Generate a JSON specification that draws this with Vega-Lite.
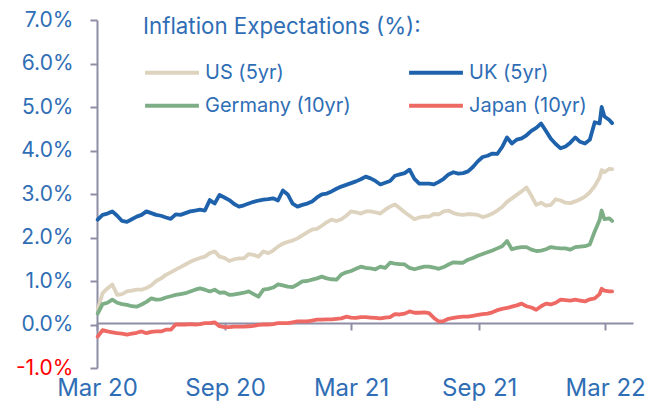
{
 "$schema": "https://vega.github.io/schema/vega-lite/v6.json",
 "width": 536, "height": 348,
 "autosize": "none",
 "padding": {"left": 97, "top": 20, "right": 29, "bottom": 44},
 "background": "white",
 "config": {"view": {"stroke": null}, "font": "Inter"},
 "data": {"values": [
{"date":"2020-03-02","series":"US (5yr)","value":0.35},{"date":"2020-03-09","series":"US (5yr)","value":0.72},{"date":"2020-03-16","series":"US (5yr)","value":0.83},{"date":"2020-03-23","series":"US (5yr)","value":0.92},{"date":"2020-03-30","series":"US (5yr)","value":0.68},{"date":"2020-04-06","series":"US (5yr)","value":0.7},{"date":"2020-04-13","series":"US (5yr)","value":0.76},{"date":"2020-04-20","series":"US (5yr)","value":0.78},{"date":"2020-04-27","series":"US (5yr)","value":0.8},{"date":"2020-05-04","series":"US (5yr)","value":0.8},
{"date":"2020-05-11","series":"US (5yr)","value":0.84},{"date":"2020-05-18","series":"US (5yr)","value":0.9},{"date":"2020-05-25","series":"US (5yr)","value":1.0},{"date":"2020-06-01","series":"US (5yr)","value":1.06},{"date":"2020-06-08","series":"US (5yr)","value":1.14},{"date":"2020-06-15","series":"US (5yr)","value":1.2},{"date":"2020-06-22","series":"US (5yr)","value":1.26},{"date":"2020-06-29","series":"US (5yr)","value":1.32},{"date":"2020-07-06","series":"US (5yr)","value":1.38},{"date":"2020-07-13","series":"US (5yr)","value":1.44},
{"date":"2020-07-20","series":"US (5yr)","value":1.49},{"date":"2020-07-27","series":"US (5yr)","value":1.53},{"date":"2020-08-03","series":"US (5yr)","value":1.56},{"date":"2020-08-10","series":"US (5yr)","value":1.64},{"date":"2020-08-17","series":"US (5yr)","value":1.68},{"date":"2020-08-24","series":"US (5yr)","value":1.56},{"date":"2020-08-31","series":"US (5yr)","value":1.53},{"date":"2020-09-07","series":"US (5yr)","value":1.46},{"date":"2020-09-14","series":"US (5yr)","value":1.5},{"date":"2020-09-21","series":"US (5yr)","value":1.52},
{"date":"2020-09-28","series":"US (5yr)","value":1.52},{"date":"2020-10-05","series":"US (5yr)","value":1.62},{"date":"2020-10-12","series":"US (5yr)","value":1.6},{"date":"2020-10-19","series":"US (5yr)","value":1.56},{"date":"2020-10-26","series":"US (5yr)","value":1.68},{"date":"2020-11-02","series":"US (5yr)","value":1.64},{"date":"2020-11-09","series":"US (5yr)","value":1.7},{"date":"2020-11-16","series":"US (5yr)","value":1.79},{"date":"2020-11-23","series":"US (5yr)","value":1.86},{"date":"2020-11-30","series":"US (5yr)","value":1.9},
{"date":"2020-12-07","series":"US (5yr)","value":1.93},{"date":"2020-12-14","series":"US (5yr)","value":1.98},{"date":"2020-12-21","series":"US (5yr)","value":2.05},{"date":"2020-12-28","series":"US (5yr)","value":2.12},{"date":"2021-01-04","series":"US (5yr)","value":2.18},{"date":"2021-01-11","series":"US (5yr)","value":2.2},{"date":"2021-01-18","series":"US (5yr)","value":2.27},{"date":"2021-01-25","series":"US (5yr)","value":2.35},{"date":"2021-02-01","series":"US (5yr)","value":2.41},{"date":"2021-02-08","series":"US (5yr)","value":2.38},
{"date":"2021-02-15","series":"US (5yr)","value":2.42},{"date":"2021-02-22","series":"US (5yr)","value":2.5},{"date":"2021-03-01","series":"US (5yr)","value":2.6},{"date":"2021-03-08","series":"US (5yr)","value":2.58},{"date":"2021-03-15","series":"US (5yr)","value":2.55},{"date":"2021-03-22","series":"US (5yr)","value":2.6},{"date":"2021-03-29","series":"US (5yr)","value":2.6},{"date":"2021-04-05","series":"US (5yr)","value":2.58},{"date":"2021-04-12","series":"US (5yr)","value":2.55},{"date":"2021-04-19","series":"US (5yr)","value":2.64},
{"date":"2021-04-26","series":"US (5yr)","value":2.71},{"date":"2021-05-03","series":"US (5yr)","value":2.76},{"date":"2021-05-10","series":"US (5yr)","value":2.67},{"date":"2021-05-17","series":"US (5yr)","value":2.58},{"date":"2021-05-24","series":"US (5yr)","value":2.5},{"date":"2021-05-31","series":"US (5yr)","value":2.42},{"date":"2021-06-07","series":"US (5yr)","value":2.46},{"date":"2021-06-14","series":"US (5yr)","value":2.48},{"date":"2021-06-21","series":"US (5yr)","value":2.48},{"date":"2021-06-28","series":"US (5yr)","value":2.54},
{"date":"2021-07-05","series":"US (5yr)","value":2.53},{"date":"2021-07-12","series":"US (5yr)","value":2.6},{"date":"2021-07-19","series":"US (5yr)","value":2.62},{"date":"2021-07-26","series":"US (5yr)","value":2.56},{"date":"2021-08-02","series":"US (5yr)","value":2.53},{"date":"2021-08-09","series":"US (5yr)","value":2.52},{"date":"2021-08-16","series":"US (5yr)","value":2.54},{"date":"2021-08-23","series":"US (5yr)","value":2.53},{"date":"2021-08-30","series":"US (5yr)","value":2.52},{"date":"2021-09-06","series":"US (5yr)","value":2.47},
{"date":"2021-09-13","series":"US (5yr)","value":2.5},{"date":"2021-09-20","series":"US (5yr)","value":2.55},{"date":"2021-09-27","series":"US (5yr)","value":2.62},{"date":"2021-10-04","series":"US (5yr)","value":2.7},{"date":"2021-10-11","series":"US (5yr)","value":2.82},{"date":"2021-10-18","series":"US (5yr)","value":2.9},{"date":"2021-10-25","series":"US (5yr)","value":2.98},{"date":"2021-11-01","series":"US (5yr)","value":3.06},{"date":"2021-11-08","series":"US (5yr)","value":3.15},{"date":"2021-11-15","series":"US (5yr)","value":2.96},
{"date":"2021-11-22","series":"US (5yr)","value":2.75},{"date":"2021-11-29","series":"US (5yr)","value":2.8},{"date":"2021-12-06","series":"US (5yr)","value":2.73},{"date":"2021-12-13","series":"US (5yr)","value":2.75},{"date":"2021-12-20","series":"US (5yr)","value":2.88},{"date":"2021-12-27","series":"US (5yr)","value":2.85},{"date":"2022-01-03","series":"US (5yr)","value":2.8},{"date":"2022-01-10","series":"US (5yr)","value":2.79},{"date":"2022-01-17","series":"US (5yr)","value":2.83},{"date":"2022-01-24","series":"US (5yr)","value":2.88},
{"date":"2022-01-31","series":"US (5yr)","value":2.94},{"date":"2022-02-07","series":"US (5yr)","value":3.04},{"date":"2022-02-14","series":"US (5yr)","value":3.18},{"date":"2022-02-21","series":"US (5yr)","value":3.38},{"date":"2022-02-24","series":"US (5yr)","value":3.55},{"date":"2022-02-28","series":"US (5yr)","value":3.5},{"date":"2022-03-07","series":"US (5yr)","value":3.58},{"date":"2022-03-11","series":"US (5yr)","value":3.57},

{"date":"2020-03-02","series":"UK (5yr)","value":2.41},{"date":"2020-03-09","series":"UK (5yr)","value":2.52},{"date":"2020-03-16","series":"UK (5yr)","value":2.55},{"date":"2020-03-23","series":"UK (5yr)","value":2.6},{"date":"2020-03-30","series":"UK (5yr)","value":2.5},{"date":"2020-04-06","series":"UK (5yr)","value":2.38},{"date":"2020-04-13","series":"UK (5yr)","value":2.36},{"date":"2020-04-20","series":"UK (5yr)","value":2.42},{"date":"2020-04-27","series":"UK (5yr)","value":2.48},{"date":"2020-05-04","series":"UK (5yr)","value":2.52},
{"date":"2020-05-11","series":"UK (5yr)","value":2.6},{"date":"2020-05-18","series":"UK (5yr)","value":2.56},{"date":"2020-05-25","series":"UK (5yr)","value":2.52},{"date":"2020-06-01","series":"UK (5yr)","value":2.5},{"date":"2020-06-08","series":"UK (5yr)","value":2.46},{"date":"2020-06-15","series":"UK (5yr)","value":2.43},{"date":"2020-06-22","series":"UK (5yr)","value":2.53},{"date":"2020-06-29","series":"UK (5yr)","value":2.52},{"date":"2020-07-06","series":"UK (5yr)","value":2.56},{"date":"2020-07-13","series":"UK (5yr)","value":2.6},
{"date":"2020-07-20","series":"UK (5yr)","value":2.62},{"date":"2020-07-27","series":"UK (5yr)","value":2.64},{"date":"2020-08-03","series":"UK (5yr)","value":2.62},{"date":"2020-08-10","series":"UK (5yr)","value":2.86},{"date":"2020-08-17","series":"UK (5yr)","value":2.78},{"date":"2020-08-24","series":"UK (5yr)","value":2.98},{"date":"2020-08-31","series":"UK (5yr)","value":2.92},{"date":"2020-09-07","series":"UK (5yr)","value":2.86},{"date":"2020-09-14","series":"UK (5yr)","value":2.77},{"date":"2020-09-21","series":"UK (5yr)","value":2.71},
{"date":"2020-09-28","series":"UK (5yr)","value":2.74},{"date":"2020-10-05","series":"UK (5yr)","value":2.78},{"date":"2020-10-12","series":"UK (5yr)","value":2.82},{"date":"2020-10-19","series":"UK (5yr)","value":2.85},{"date":"2020-10-26","series":"UK (5yr)","value":2.87},{"date":"2020-11-02","series":"UK (5yr)","value":2.88},{"date":"2020-11-09","series":"UK (5yr)","value":2.9},{"date":"2020-11-16","series":"UK (5yr)","value":2.85},{"date":"2020-11-23","series":"UK (5yr)","value":3.08},{"date":"2020-11-30","series":"UK (5yr)","value":2.99},
{"date":"2020-12-07","series":"UK (5yr)","value":2.78},{"date":"2020-12-14","series":"UK (5yr)","value":2.71},{"date":"2020-12-21","series":"UK (5yr)","value":2.75},{"date":"2020-12-28","series":"UK (5yr)","value":2.78},{"date":"2021-01-04","series":"UK (5yr)","value":2.83},{"date":"2021-01-11","series":"UK (5yr)","value":2.92},{"date":"2021-01-18","series":"UK (5yr)","value":2.99},{"date":"2021-01-25","series":"UK (5yr)","value":3.01},{"date":"2021-02-01","series":"UK (5yr)","value":3.06},{"date":"2021-02-08","series":"UK (5yr)","value":3.12},
{"date":"2021-02-15","series":"UK (5yr)","value":3.17},{"date":"2021-02-22","series":"UK (5yr)","value":3.21},{"date":"2021-03-01","series":"UK (5yr)","value":3.25},{"date":"2021-03-08","series":"UK (5yr)","value":3.29},{"date":"2021-03-15","series":"UK (5yr)","value":3.34},{"date":"2021-03-22","series":"UK (5yr)","value":3.4},{"date":"2021-03-29","series":"UK (5yr)","value":3.36},{"date":"2021-04-05","series":"UK (5yr)","value":3.3},{"date":"2021-04-12","series":"UK (5yr)","value":3.22},{"date":"2021-04-19","series":"UK (5yr)","value":3.26},
{"date":"2021-04-26","series":"UK (5yr)","value":3.3},{"date":"2021-05-03","series":"UK (5yr)","value":3.42},{"date":"2021-05-10","series":"UK (5yr)","value":3.45},{"date":"2021-05-17","series":"UK (5yr)","value":3.48},{"date":"2021-05-24","series":"UK (5yr)","value":3.56},{"date":"2021-05-31","series":"UK (5yr)","value":3.35},{"date":"2021-06-07","series":"UK (5yr)","value":3.24},{"date":"2021-06-14","series":"UK (5yr)","value":3.24},{"date":"2021-06-21","series":"UK (5yr)","value":3.24},{"date":"2021-06-28","series":"UK (5yr)","value":3.22},
{"date":"2021-07-05","series":"UK (5yr)","value":3.28},{"date":"2021-07-12","series":"UK (5yr)","value":3.35},{"date":"2021-07-19","series":"UK (5yr)","value":3.45},{"date":"2021-07-26","series":"UK (5yr)","value":3.5},{"date":"2021-08-02","series":"UK (5yr)","value":3.47},{"date":"2021-08-09","series":"UK (5yr)","value":3.48},{"date":"2021-08-16","series":"UK (5yr)","value":3.52},{"date":"2021-08-23","series":"UK (5yr)","value":3.62},{"date":"2021-08-30","series":"UK (5yr)","value":3.75},{"date":"2021-09-06","series":"UK (5yr)","value":3.85},
{"date":"2021-09-13","series":"UK (5yr)","value":3.88},{"date":"2021-09-20","series":"UK (5yr)","value":3.93},{"date":"2021-09-27","series":"UK (5yr)","value":3.92},{"date":"2021-10-04","series":"UK (5yr)","value":4.08},{"date":"2021-10-11","series":"UK (5yr)","value":4.3},{"date":"2021-10-18","series":"UK (5yr)","value":4.16},{"date":"2021-10-25","series":"UK (5yr)","value":4.25},{"date":"2021-11-01","series":"UK (5yr)","value":4.28},{"date":"2021-11-08","series":"UK (5yr)","value":4.35},{"date":"2021-11-15","series":"UK (5yr)","value":4.45},
{"date":"2021-11-22","series":"UK (5yr)","value":4.52},{"date":"2021-11-29","series":"UK (5yr)","value":4.62},{"date":"2021-12-06","series":"UK (5yr)","value":4.45},{"date":"2021-12-13","series":"UK (5yr)","value":4.27},{"date":"2021-12-20","series":"UK (5yr)","value":4.15},{"date":"2021-12-27","series":"UK (5yr)","value":4.05},{"date":"2022-01-03","series":"UK (5yr)","value":4.09},{"date":"2022-01-10","series":"UK (5yr)","value":4.18},{"date":"2022-01-17","series":"UK (5yr)","value":4.3},{"date":"2022-01-24","series":"UK (5yr)","value":4.2},
{"date":"2022-01-31","series":"UK (5yr)","value":4.16},{"date":"2022-02-07","series":"UK (5yr)","value":4.25},{"date":"2022-02-14","series":"UK (5yr)","value":4.65},{"date":"2022-02-21","series":"UK (5yr)","value":4.62},{"date":"2022-02-24","series":"UK (5yr)","value":5.0},{"date":"2022-02-28","series":"UK (5yr)","value":4.78},{"date":"2022-03-07","series":"UK (5yr)","value":4.7},{"date":"2022-03-11","series":"UK (5yr)","value":4.63},

{"date":"2020-03-02","series":"Germany (10yr)","value":0.25},{"date":"2020-03-09","series":"Germany (10yr)","value":0.47},{"date":"2020-03-16","series":"Germany (10yr)","value":0.5},{"date":"2020-03-23","series":"Germany (10yr)","value":0.57},{"date":"2020-03-30","series":"Germany (10yr)","value":0.5},{"date":"2020-04-06","series":"Germany (10yr)","value":0.47},{"date":"2020-04-13","series":"Germany (10yr)","value":0.45},{"date":"2020-04-20","series":"Germany (10yr)","value":0.42},{"date":"2020-04-27","series":"Germany (10yr)","value":0.41},{"date":"2020-05-04","series":"Germany (10yr)","value":0.46},
{"date":"2020-05-11","series":"Germany (10yr)","value":0.52},{"date":"2020-05-18","series":"Germany (10yr)","value":0.6},{"date":"2020-05-25","series":"Germany (10yr)","value":0.57},{"date":"2020-06-01","series":"Germany (10yr)","value":0.58},{"date":"2020-06-08","series":"Germany (10yr)","value":0.62},{"date":"2020-06-15","series":"Germany (10yr)","value":0.65},{"date":"2020-06-22","series":"Germany (10yr)","value":0.68},{"date":"2020-06-29","series":"Germany (10yr)","value":0.7},{"date":"2020-07-06","series":"Germany (10yr)","value":0.72},{"date":"2020-07-13","series":"Germany (10yr)","value":0.76},
{"date":"2020-07-20","series":"Germany (10yr)","value":0.8},{"date":"2020-07-27","series":"Germany (10yr)","value":0.83},{"date":"2020-08-03","series":"Germany (10yr)","value":0.8},{"date":"2020-08-10","series":"Germany (10yr)","value":0.76},{"date":"2020-08-17","series":"Germany (10yr)","value":0.8},{"date":"2020-08-24","series":"Germany (10yr)","value":0.73},{"date":"2020-08-31","series":"Germany (10yr)","value":0.74},{"date":"2020-09-07","series":"Germany (10yr)","value":0.68},{"date":"2020-09-14","series":"Germany (10yr)","value":0.69},{"date":"2020-09-21","series":"Germany (10yr)","value":0.71},
{"date":"2020-09-28","series":"Germany (10yr)","value":0.73},{"date":"2020-10-05","series":"Germany (10yr)","value":0.76},{"date":"2020-10-12","series":"Germany (10yr)","value":0.7},{"date":"2020-10-19","series":"Germany (10yr)","value":0.64},{"date":"2020-10-26","series":"Germany (10yr)","value":0.8},{"date":"2020-11-02","series":"Germany (10yr)","value":0.82},{"date":"2020-11-09","series":"Germany (10yr)","value":0.85},{"date":"2020-11-16","series":"Germany (10yr)","value":0.92},{"date":"2020-11-23","series":"Germany (10yr)","value":0.9},{"date":"2020-11-30","series":"Germany (10yr)","value":0.87},
{"date":"2020-12-07","series":"Germany (10yr)","value":0.86},{"date":"2020-12-14","series":"Germany (10yr)","value":0.92},{"date":"2020-12-21","series":"Germany (10yr)","value":0.99},{"date":"2020-12-28","series":"Germany (10yr)","value":1.0},{"date":"2021-01-04","series":"Germany (10yr)","value":1.03},{"date":"2021-01-11","series":"Germany (10yr)","value":1.06},{"date":"2021-01-18","series":"Germany (10yr)","value":1.1},{"date":"2021-01-25","series":"Germany (10yr)","value":1.06},{"date":"2021-02-01","series":"Germany (10yr)","value":1.04},{"date":"2021-02-08","series":"Germany (10yr)","value":1.03},
{"date":"2021-02-15","series":"Germany (10yr)","value":1.15},{"date":"2021-02-22","series":"Germany (10yr)","value":1.2},{"date":"2021-03-01","series":"Germany (10yr)","value":1.23},{"date":"2021-03-08","series":"Germany (10yr)","value":1.28},{"date":"2021-03-15","series":"Germany (10yr)","value":1.33},{"date":"2021-03-22","series":"Germany (10yr)","value":1.3},{"date":"2021-03-29","series":"Germany (10yr)","value":1.29},{"date":"2021-04-05","series":"Germany (10yr)","value":1.27},{"date":"2021-04-12","series":"Germany (10yr)","value":1.33},{"date":"2021-04-19","series":"Germany (10yr)","value":1.3},
{"date":"2021-04-26","series":"Germany (10yr)","value":1.42},{"date":"2021-05-03","series":"Germany (10yr)","value":1.4},{"date":"2021-05-10","series":"Germany (10yr)","value":1.39},{"date":"2021-05-17","series":"Germany (10yr)","value":1.38},{"date":"2021-05-24","series":"Germany (10yr)","value":1.3},{"date":"2021-05-31","series":"Germany (10yr)","value":1.27},{"date":"2021-06-07","series":"Germany (10yr)","value":1.3},{"date":"2021-06-14","series":"Germany (10yr)","value":1.33},{"date":"2021-06-21","series":"Germany (10yr)","value":1.33},{"date":"2021-06-28","series":"Germany (10yr)","value":1.31},
{"date":"2021-07-05","series":"Germany (10yr)","value":1.28},{"date":"2021-07-12","series":"Germany (10yr)","value":1.32},{"date":"2021-07-19","series":"Germany (10yr)","value":1.38},{"date":"2021-07-26","series":"Germany (10yr)","value":1.43},{"date":"2021-08-02","series":"Germany (10yr)","value":1.42},{"date":"2021-08-09","series":"Germany (10yr)","value":1.42},{"date":"2021-08-16","series":"Germany (10yr)","value":1.49},{"date":"2021-08-23","series":"Germany (10yr)","value":1.53},{"date":"2021-08-30","series":"Germany (10yr)","value":1.58},{"date":"2021-09-06","series":"Germany (10yr)","value":1.62},
{"date":"2021-09-13","series":"Germany (10yr)","value":1.66},{"date":"2021-09-20","series":"Germany (10yr)","value":1.7},{"date":"2021-09-27","series":"Germany (10yr)","value":1.75},{"date":"2021-10-04","series":"Germany (10yr)","value":1.8},{"date":"2021-10-11","series":"Germany (10yr)","value":1.92},{"date":"2021-10-18","series":"Germany (10yr)","value":1.73},{"date":"2021-10-25","series":"Germany (10yr)","value":1.76},{"date":"2021-11-01","series":"Germany (10yr)","value":1.78},{"date":"2021-11-08","series":"Germany (10yr)","value":1.78},{"date":"2021-11-15","series":"Germany (10yr)","value":1.72},
{"date":"2021-11-22","series":"Germany (10yr)","value":1.69},{"date":"2021-11-29","series":"Germany (10yr)","value":1.7},{"date":"2021-12-06","series":"Germany (10yr)","value":1.73},{"date":"2021-12-13","series":"Germany (10yr)","value":1.78},{"date":"2021-12-20","series":"Germany (10yr)","value":1.76},{"date":"2021-12-27","series":"Germany (10yr)","value":1.75},{"date":"2022-01-03","series":"Germany (10yr)","value":1.75},{"date":"2022-01-10","series":"Germany (10yr)","value":1.72},{"date":"2022-01-17","series":"Germany (10yr)","value":1.78},{"date":"2022-01-24","series":"Germany (10yr)","value":1.79},
{"date":"2022-01-31","series":"Germany (10yr)","value":1.8},{"date":"2022-02-07","series":"Germany (10yr)","value":1.84},{"date":"2022-02-14","series":"Germany (10yr)","value":2.14},{"date":"2022-02-21","series":"Germany (10yr)","value":2.4},{"date":"2022-02-24","series":"Germany (10yr)","value":2.62},{"date":"2022-02-28","series":"Germany (10yr)","value":2.42},{"date":"2022-03-07","series":"Germany (10yr)","value":2.44},{"date":"2022-03-11","series":"Germany (10yr)","value":2.38},

{"date":"2020-03-02","series":"Japan (10yr)","value":-0.28},{"date":"2020-03-09","series":"Japan (10yr)","value":-0.13},{"date":"2020-03-16","series":"Japan (10yr)","value":-0.16},{"date":"2020-03-23","series":"Japan (10yr)","value":-0.18},{"date":"2020-03-30","series":"Japan (10yr)","value":-0.2},{"date":"2020-04-06","series":"Japan (10yr)","value":-0.21},{"date":"2020-04-13","series":"Japan (10yr)","value":-0.23},{"date":"2020-04-20","series":"Japan (10yr)","value":-0.21},{"date":"2020-04-27","series":"Japan (10yr)","value":-0.19},{"date":"2020-05-04","series":"Japan (10yr)","value":-0.16},
{"date":"2020-05-11","series":"Japan (10yr)","value":-0.2},{"date":"2020-05-18","series":"Japan (10yr)","value":-0.17},{"date":"2020-05-25","series":"Japan (10yr)","value":-0.16},{"date":"2020-06-01","series":"Japan (10yr)","value":-0.16},{"date":"2020-06-08","series":"Japan (10yr)","value":-0.12},{"date":"2020-06-15","series":"Japan (10yr)","value":-0.12},{"date":"2020-06-22","series":"Japan (10yr)","value":0.0},{"date":"2020-06-29","series":"Japan (10yr)","value":0.0},{"date":"2020-07-06","series":"Japan (10yr)","value":0.0},{"date":"2020-07-13","series":"Japan (10yr)","value":0.01},
{"date":"2020-07-20","series":"Japan (10yr)","value":0.0},{"date":"2020-07-27","series":"Japan (10yr)","value":0.01},{"date":"2020-08-03","series":"Japan (10yr)","value":0.03},{"date":"2020-08-10","series":"Japan (10yr)","value":0.03},{"date":"2020-08-17","series":"Japan (10yr)","value":0.05},{"date":"2020-08-24","series":"Japan (10yr)","value":-0.04},{"date":"2020-08-31","series":"Japan (10yr)","value":-0.06},{"date":"2020-09-07","series":"Japan (10yr)","value":-0.06},{"date":"2020-09-14","series":"Japan (10yr)","value":-0.05},{"date":"2020-09-21","series":"Japan (10yr)","value":-0.05},
{"date":"2020-09-28","series":"Japan (10yr)","value":-0.05},{"date":"2020-10-05","series":"Japan (10yr)","value":-0.04},{"date":"2020-10-12","series":"Japan (10yr)","value":-0.03},{"date":"2020-10-19","series":"Japan (10yr)","value":-0.01},{"date":"2020-10-26","series":"Japan (10yr)","value":0.0},{"date":"2020-11-02","series":"Japan (10yr)","value":0.0},{"date":"2020-11-09","series":"Japan (10yr)","value":0.01},{"date":"2020-11-16","series":"Japan (10yr)","value":0.03},{"date":"2020-11-23","series":"Japan (10yr)","value":0.03},{"date":"2020-11-30","series":"Japan (10yr)","value":0.03},
{"date":"2020-12-07","series":"Japan (10yr)","value":0.05},{"date":"2020-12-14","series":"Japan (10yr)","value":0.07},{"date":"2020-12-21","series":"Japan (10yr)","value":0.07},{"date":"2020-12-28","series":"Japan (10yr)","value":0.07},{"date":"2021-01-04","series":"Japan (10yr)","value":0.09},{"date":"2021-01-11","series":"Japan (10yr)","value":0.11},{"date":"2021-01-18","series":"Japan (10yr)","value":0.11},{"date":"2021-01-25","series":"Japan (10yr)","value":0.12},{"date":"2021-02-01","series":"Japan (10yr)","value":0.12},{"date":"2021-02-08","series":"Japan (10yr)","value":0.13},
{"date":"2021-02-15","series":"Japan (10yr)","value":0.14},{"date":"2021-02-22","series":"Japan (10yr)","value":0.18},{"date":"2021-03-01","series":"Japan (10yr)","value":0.16},{"date":"2021-03-08","series":"Japan (10yr)","value":0.15},{"date":"2021-03-15","series":"Japan (10yr)","value":0.17},{"date":"2021-03-22","series":"Japan (10yr)","value":0.17},{"date":"2021-03-29","series":"Japan (10yr)","value":0.16},{"date":"2021-04-05","series":"Japan (10yr)","value":0.15},{"date":"2021-04-12","series":"Japan (10yr)","value":0.14},{"date":"2021-04-19","series":"Japan (10yr)","value":0.16},
{"date":"2021-04-26","series":"Japan (10yr)","value":0.17},{"date":"2021-05-03","series":"Japan (10yr)","value":0.24},{"date":"2021-05-10","series":"Japan (10yr)","value":0.23},{"date":"2021-05-17","series":"Japan (10yr)","value":0.25},{"date":"2021-05-24","series":"Japan (10yr)","value":0.3},{"date":"2021-05-31","series":"Japan (10yr)","value":0.27},{"date":"2021-06-07","series":"Japan (10yr)","value":0.27},{"date":"2021-06-14","series":"Japan (10yr)","value":0.28},{"date":"2021-06-21","series":"Japan (10yr)","value":0.26},{"date":"2021-06-28","series":"Japan (10yr)","value":0.15},
{"date":"2021-07-05","series":"Japan (10yr)","value":0.07},{"date":"2021-07-12","series":"Japan (10yr)","value":0.08},{"date":"2021-07-19","series":"Japan (10yr)","value":0.13},{"date":"2021-07-26","series":"Japan (10yr)","value":0.15},{"date":"2021-08-02","series":"Japan (10yr)","value":0.17},{"date":"2021-08-09","series":"Japan (10yr)","value":0.18},{"date":"2021-08-16","series":"Japan (10yr)","value":0.18},{"date":"2021-08-23","series":"Japan (10yr)","value":0.2},{"date":"2021-08-30","series":"Japan (10yr)","value":0.22},{"date":"2021-09-06","series":"Japan (10yr)","value":0.24},
{"date":"2021-09-13","series":"Japan (10yr)","value":0.25},{"date":"2021-09-20","series":"Japan (10yr)","value":0.28},{"date":"2021-09-27","series":"Japan (10yr)","value":0.33},{"date":"2021-10-04","series":"Japan (10yr)","value":0.36},{"date":"2021-10-11","series":"Japan (10yr)","value":0.38},{"date":"2021-10-18","series":"Japan (10yr)","value":0.41},{"date":"2021-10-25","series":"Japan (10yr)","value":0.44},{"date":"2021-11-01","series":"Japan (10yr)","value":0.48},{"date":"2021-11-08","series":"Japan (10yr)","value":0.42},{"date":"2021-11-15","series":"Japan (10yr)","value":0.39},
{"date":"2021-11-22","series":"Japan (10yr)","value":0.34},{"date":"2021-11-29","series":"Japan (10yr)","value":0.42},{"date":"2021-12-06","series":"Japan (10yr)","value":0.48},{"date":"2021-12-13","series":"Japan (10yr)","value":0.46},{"date":"2021-12-20","series":"Japan (10yr)","value":0.5},{"date":"2021-12-27","series":"Japan (10yr)","value":0.57},{"date":"2022-01-03","series":"Japan (10yr)","value":0.56},{"date":"2022-01-10","series":"Japan (10yr)","value":0.55},{"date":"2022-01-17","series":"Japan (10yr)","value":0.57},{"date":"2022-01-24","series":"Japan (10yr)","value":0.55},
{"date":"2022-01-31","series":"Japan (10yr)","value":0.53},{"date":"2022-02-07","series":"Japan (10yr)","value":0.58},{"date":"2022-02-14","series":"Japan (10yr)","value":0.6},{"date":"2022-02-21","series":"Japan (10yr)","value":0.7},{"date":"2022-02-24","series":"Japan (10yr)","value":0.82},{"date":"2022-02-28","series":"Japan (10yr)","value":0.78},{"date":"2022-03-07","series":"Japan (10yr)","value":0.76},{"date":"2022-03-11","series":"Japan (10yr)","value":0.76}
 ]},
 "mark": {"type": "line", "strokeWidth": 3.8, "strokeJoin": "round", "strokeCap": "round"},
 "encoding": {
  "x": {"field": "date", "type": "temporal",
   "scale": {"type": "utc", "domain": [{"year": 2020, "month": 3, "date": 1, "utc": true}, {"year": 2022, "month": 4, "date": 10, "utc": true}]},
   "axis": {"title": null, "grid": false, "offset": -45,
     "values": [{"year": 2020, "month": 3, "date": 1, "utc": true}, {"year": 2020, "month": 9, "date": 1, "utc": true}, {"year": 2021, "month": 3, "date": 1, "utc": true}, {"year": 2021, "month": 9, "date": 1, "utc": true}, {"year": 2022, "month": 3, "date": 1, "utc": true}],
     "format": "%b %y", "labelFlush": false, "labelOverlap": false,
     "domainColor": "#8E8EA6", "domainWidth": 2, "tickColor": "#8E8EA6", "tickWidth": 2, "tickSize": 7,
     "labelPadding": 46, "labelColor": "#2F6EB5", "labelFontSize": 24, "labelFont": "Inter"}},
  "y": {"field": "value", "type": "quantitative",
   "scale": {"domain": [-1, 7], "nice": false, "zero": false},
   "axis": {"title": null, "grid": false, "values": [-1, 0, 1, 2, 3, 4, 5, 6, 7],
     "labelExpr": "(datum.value < 0 ? '-' + format(-datum.value, '.1f') : format(datum.value, '.1f')) + '%'",
     "labelColor": {"condition": {"test": "datum.value < 0", "value": "#FF0000"}, "value": "#2F6EB5"},
     "labelFontSize": 21, "labelFont": "Inter", "labelPadding": 17,
     "domainColor": "#8E8EA6", "domainWidth": 2, "tickColor": "#8E8EA6", "tickWidth": 2, "tickSize": 7}},
  "color": {"field": "series", "type": "nominal",
   "scale": {"domain": ["US (5yr)", "UK (5yr)", "Germany (10yr)", "Japan (10yr)"], "range": ["#DDD3BF", "#1F62AC", "#7DAE86", "#EE6963"]},
   "legend": {"orient": "none", "legendX": 46, "legendY": -4, "direction": "horizontal", "columns": 2,
     "title": "Inflation Expectations (%):", "titleColor": "#2F6EB5", "titleFontSize": 22.3, "titleFontWeight": "normal", "titleFont": "Inter", "titlePadding": 24.5, "titleLimit": 500,
     "labelColor": "#2F6EB5", "labelFontSize": 20, "labelFont": "Inter", "labelLimit": 300, "labelOffset": 4,
     "symbolType": "stroke", "symbolSize": 2900, "symbolStrokeWidth": 4,
     "columnPadding": 56, "rowPadding": 13, "clipHeight": 20}}
 }
}
